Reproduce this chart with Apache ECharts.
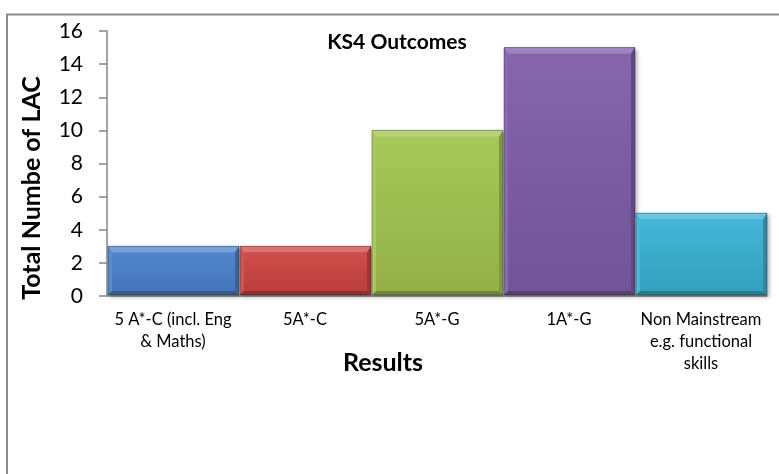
<!DOCTYPE html>
<html>
<head>
<meta charset="utf-8">
<script src="https://cdn.jsdelivr.net/npm/echarts@6/dist/echarts.min.js"></script>
<style>
  html, body { margin: 0; padding: 0; background: #fff; }
  #chart { width: 779px; height: 474px; }
</style>
</head>
<body>
<div id="chart"></div>
<script>
// KS4 outcome categories and counts
const categories = [
  '5 A*-C (incl. Eng\n& Maths)',
  '5A*-C',
  '5A*-G',
  '1A*-G',
  'Non Mainstream\ne.g. functional\nskills'
];
const counts = [3, 3, 10, 15, 5];
// base colour of each bar
const barColors = ['#4A80CC', '#CD4441', '#A2C44F', '#7E5CA8', '#39B2D4'];
const yTicks = { min: 0, max: 16, interval: 2 };

const chart = echarts.init(document.getElementById('chart'));
const font = 'Lato, "Open Sans", sans-serif';

function shade(hex, amt) {
  // amt > 0 lightens towards white, amt < 0 darkens towards black
  const n = parseInt(hex.slice(1), 16);
  let r = (n >> 16) & 255, g = (n >> 8) & 255, b = n & 255;
  const t = amt > 0 ? 255 : 0, p = Math.abs(amt);
  r = Math.round(r + (t - r) * p);
  g = Math.round(g + (t - g) * p);
  b = Math.round(b + (t - b) * p);
  return 'rgb(' + r + ',' + g + ',' + b + ')';
}

// Bevelled bar: body plus four edge facets, placed through the axis scales
function renderBevelBar(params, api) {
  const idx = api.value(0);
  const val = api.value(1);
  const top = api.coord([idx, val]);
  const base = api.coord([idx, 0]);
  const bw = api.size([1, 0])[0];
  const x0 = top[0] - bw / 2 + 1, x1 = top[0] + bw / 2;
  const y0 = top[1], y1 = base[1] - 1;
  const c = barColors[idx];
  const bt = 6, bs = 4, bb = 4;
  const children = [
    {
      type: 'rect',
      shape: { x: x0, y: y0, width: x1 - x0, height: y1 - y0 },
      style: {
        fill: new echarts.graphic.LinearGradient(0, 0, 0, 1, [
          { offset: 0, color: shade(c, 0.06) },
          { offset: 1, color: shade(c, -0.1) }
        ]),
        shadowColor: 'rgba(0,0,0,0.35)', shadowBlur: 4, shadowOffsetX: 2, shadowOffsetY: 2
      }
    },
    { type: 'polygon', shape: { points: [[x0, y0], [x1, y0], [x1 - bs, y0 + bt], [x0 + bs, y0 + bt]] },
      style: { fill: shade(c, 0.25) } },
    { type: 'polygon', shape: { points: [[x0, y0], [x0 + bs, y0 + bt], [x0 + bs, y1 - bb], [x0, y1]] },
      style: { fill: shade(c, 0.08) } },
    { type: 'polygon', shape: { points: [[x1, y0], [x1 - bs, y0 + bt], [x1 - bs, y1 - bb], [x1, y1]] },
      style: { fill: shade(c, -0.22) } },
    { type: 'polygon', shape: { points: [[x0, y1], [x0 + bs, y1 - bb], [x1 - bs, y1 - bb], [x1, y1]] },
      style: { fill: shade(c, -0.3) } },
    { type: 'rect', shape: { x: x0, y: y0, width: x1 - x0, height: y1 - y0 },
      style: { fill: 'none', stroke: 'rgba(0,0,0,0.3)', lineWidth: 1 } }
  ];
  return { type: 'group', children: children };
}

chart.setOption({
  backgroundColor: '#fff',
  animation: false,
  graphic: [
    {
      type: 'rect',
      shape: { x: 7, y: 14.5, width: 800, height: 500 },
      style: { fill: 'none', stroke: '#8a8a8a', lineWidth: 2 },
      silent: true
    },
    {
      type: 'text',
      x: 397, y: 42,
      style: {
        text: 'KS4 Outcomes', fontFamily: font, fontSize: 21, fontWeight: 'bold',
        fill: '#000', align: 'center', verticalAlign: 'middle'
      }
    },
    {
      type: 'text',
      x: 383, y: 363,
      style: {
        text: 'Results', fontFamily: font, fontSize: 25, fontWeight: 'bold',
        fill: '#000', align: 'center', verticalAlign: 'middle'
      }
    },
    {
      type: 'text',
      x: 32, y: 188,
      rotation: Math.PI / 2,
      style: {
        text: 'Total Numbe of LAC', fontFamily: font, fontSize: 25, fontWeight: 'bold',
        fill: '#000', align: 'center', verticalAlign: 'middle'
      }
    }
  ],
  grid: { left: 107, top: 31, right: 12, bottom: 178, containLabel: false },
  xAxis: {
    type: 'category',
    data: categories,
    axisLine: { lineStyle: { color: '#868686', width: 1.5 } },
    axisTick: { show: false },
    axisLabel: {
      interval: 0,
      margin: 13,
      fontFamily: font,
      fontSize: 16.5,
      lineHeight: 22,
      color: '#000'
    }
  },
  yAxis: {
    type: 'value',
    min: yTicks.min,
    max: yTicks.max,
    interval: yTicks.interval,
    axisLine: { show: true, lineStyle: { color: '#868686', width: 1.5 } },
    axisTick: { show: true, inside: false, length: 8, lineStyle: { color: '#868686', width: 1.5 } },
    splitLine: { show: false },
    axisLabel: { fontFamily: font, fontSize: 21, color: '#000', margin: 24 }
  },
  series: [{
    type: 'custom',
    renderItem: renderBevelBar,
    encode: { x: 0, y: 1 },
    data: counts.map((v, i) => [i, v])
  }]
});
</script>
</body>
</html>
